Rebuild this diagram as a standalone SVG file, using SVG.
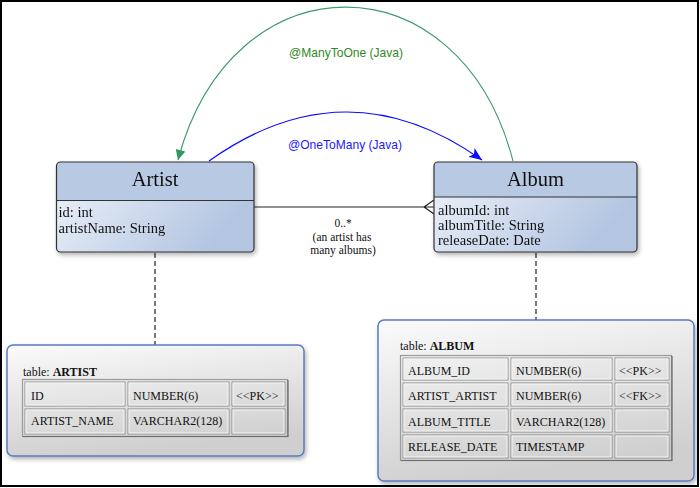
<svg xmlns="http://www.w3.org/2000/svg" width="700" height="488" viewBox="0 0 700 488">
<style>
.serif{font-family:"Liberation Serif","Times New Roman",serif;fill:#111}
.title{font-size:20.5px;text-anchor:middle}
.attr{font-size:14.5px}
.tbl{font-size:12px}
.lbl{font-size:11.5px;text-anchor:middle}
.java{font-family:"Liberation Sans",Arial,sans-serif;font-size:13px;text-anchor:middle}
.nodebox{stroke:#333;stroke-width:1.2;fill:none}
.hdr{fill:#b8c9e3}
.body{fill:url(#bodyGrad)}
.tbox{fill:url(#tblGrad);stroke:#5b7cc0;stroke-width:1.5}
.cell{fill:none;stroke:#8a8a8a;stroke-width:1}
.cellhi{fill:none;stroke:#f6f6f6;stroke-width:1}
.touter{fill:none;stroke:#9a9a9a;stroke-width:1.2}
.tshadow{fill:none;stroke:#6a6a6a;stroke-width:1.2}
.dash{stroke:#222;stroke-width:1.2;stroke-dasharray:5,3;fill:none}
</style>
<defs>
<linearGradient id="bodyGrad" x1="0" y1="0" x2="1" y2="0.4">
<stop offset="0" stop-color="#f0f4fb"/>
<stop offset="1" stop-color="#b3c5e1"/>
</linearGradient>
<linearGradient id="tblGrad" x1="0" y1="0" x2="0.3" y2="1">
<stop offset="0" stop-color="#fbfbfb"/>
<stop offset="1" stop-color="#cfcfcf"/>
</linearGradient>
<filter id="sh" x="-10%" y="-10%" width="125%" height="130%">
<feDropShadow dx="1.5" dy="2.5" stdDeviation="2" flood-color="#000" flood-opacity="0.3"/>
</filter>
<marker id="arrGreen" viewBox="0 0 10 10" refX="10" refY="5" markerWidth="11" markerHeight="10" markerUnits="userSpaceOnUse" orient="auto">
<path d="M0,0 L10,5 L0,10 z" fill="#2e9a62"/>
</marker>
<marker id="arrBlue" viewBox="0 0 12 10" refX="12" refY="5" markerWidth="13" markerHeight="11" markerUnits="userSpaceOnUse" orient="auto">
<path d="M0,0 L12,5 L0,10 L3,5 z" fill="#0a0aff"/>
</marker>
</defs>

<rect x="0" y="0" width="700" height="488" fill="#fff"/>
<rect x="1" y="1" width="697" height="485" fill="none" stroke="#000" stroke-width="2"/>

<g id="connectors">
<path d="M513,161 C460,-44 232,-44 178,160" fill="none" stroke="#3c9a6c" stroke-width="1.1" marker-end="url(#arrGreen)"/>
<path d="M209,161 Q346,63.5 482,160" fill="none" stroke="#0a0aff" stroke-width="1.2" marker-end="url(#arrBlue)"/>
<text class="java" x="346" y="57" fill="#2f8a1f" textLength="114" lengthAdjust="spacingAndGlyphs">@ManyToOne (Java)</text>
<text class="java" x="345" y="149" fill="#1a1aff" textLength="114" lengthAdjust="spacingAndGlyphs">@OneToMany (Java)</text>
<path d="M254,207 H434 M424,207 L434,200 M424,207 L434,214" fill="none" stroke="#222" stroke-width="1.2"/>
<text class="serif lbl" x="343" y="227">0..*</text>
<text class="serif lbl" x="342" y="241">(an artist has</text>
<text class="serif lbl" x="343" y="254">many albums)</text>
<path class="dash" d="M155,253 V345"/>
<path class="dash" d="M536,253 V320"/>
</g>

<g id="artist" filter="url(#sh)">
<rect class="body" x="56.5" y="162" width="197.5" height="90" rx="4"/>
<path class="hdr" d="M56.5,200.5 V166 a4,4 0 0 1 4,-4 H250 a4,4 0 0 1 4,4 V200.5 Z"/>
<line x1="56.5" y1="200.5" x2="254" y2="200.5" stroke="#333" stroke-width="1.2"/>
<rect class="nodebox" x="56.5" y="162" width="197.5" height="90" rx="4"/>
<text class="serif title" x="155" y="186">Artist</text>
<text class="serif attr" x="58.5" y="217">id: int</text>
<text class="serif attr" x="58.5" y="233">artistName: String</text>
</g>

<g id="album" filter="url(#sh)">
<rect class="body" x="434" y="162" width="203" height="90" rx="4"/>
<path class="hdr" d="M434,197 V166 a4,4 0 0 1 4,-4 H633 a4,4 0 0 1 4,4 V197 Z"/>
<line x1="434" y1="197" x2="637" y2="197" stroke="#333" stroke-width="1.2"/>
<rect class="nodebox" x="434" y="162" width="203" height="90" rx="4"/>
<text class="serif title" x="535.5" y="186">Album</text>
<text class="serif attr" x="438" y="215">albumId: int</text>
<text class="serif attr" x="438" y="230">albumTitle: String</text>
<text class="serif attr" x="438" y="245">releaseDate: Date</text>
</g>

<g id="artist-table">
<rect class="tbox" x="7" y="345" width="297" height="111" rx="6" filter="url(#sh)"/>
<text class="serif tbl" x="23" y="376">table: <tspan font-weight="bold">ARTIST</tspan></text>
<rect class="touter" x="22.5" y="379.5" width="265" height="57"/>
<path class="tshadow" d="M23,436.5 H288 V380"/>
<rect class="cell" x="25" y="382" width="100" height="24"/>
<rect class="cellhi" x="26" y="383" width="98" height="22"/>
<rect class="cell" x="128" y="382" width="101" height="24"/>
<rect class="cellhi" x="129" y="383" width="99" height="22"/>
<rect class="cell" x="232" y="382" width="53" height="24"/>
<rect class="cellhi" x="233" y="383" width="51" height="22"/>
<rect class="cell" x="25" y="409" width="100" height="25"/>
<rect class="cellhi" x="26" y="410" width="98" height="23"/>
<rect class="cell" x="128" y="409" width="101" height="25"/>
<rect class="cellhi" x="129" y="410" width="99" height="23"/>
<rect class="cell" x="232" y="409" width="53" height="25"/>
<rect class="cellhi" x="233" y="410" width="51" height="23"/>
<text class="serif tbl" x="31" y="400">ID</text>
<text class="serif tbl" x="133" y="400">NUMBER(6)</text>
<text class="serif tbl" x="236" y="400">&lt;&lt;PK&gt;&gt;</text>
<text class="serif tbl" x="31" y="425">ARTIST_NAME</text>
<text class="serif tbl" x="133" y="425">VARCHAR2(128)</text>
</g>

<g id="album-table">
<rect class="tbox" x="378" y="320" width="316" height="161" rx="6" filter="url(#sh)"/>
<text class="serif tbl" x="400" y="350">table: <tspan font-weight="bold">ALBUM</tspan></text>
<rect class="touter" x="400.5" y="355.5" width="271" height="105"/>
<path class="tshadow" d="M401,460.5 H672 V356"/>
<rect class="cell" x="403" y="358" width="105" height="22"/>
<rect class="cellhi" x="404" y="359" width="103" height="20"/>
<rect class="cell" x="511" y="358" width="101" height="22"/>
<rect class="cellhi" x="512" y="359" width="99" height="20"/>
<rect class="cell" x="615" y="358" width="54" height="22"/>
<rect class="cellhi" x="616" y="359" width="52" height="20"/>
<rect class="cell" x="403" y="383" width="105" height="23"/>
<rect class="cellhi" x="404" y="384" width="103" height="21"/>
<rect class="cell" x="511" y="383" width="101" height="23"/>
<rect class="cellhi" x="512" y="384" width="99" height="21"/>
<rect class="cell" x="615" y="383" width="54" height="23"/>
<rect class="cellhi" x="616" y="384" width="52" height="21"/>
<rect class="cell" x="403" y="409" width="105" height="23"/>
<rect class="cellhi" x="404" y="410" width="103" height="21"/>
<rect class="cell" x="511" y="409" width="101" height="23"/>
<rect class="cellhi" x="512" y="410" width="99" height="21"/>
<rect class="cell" x="615" y="409" width="54" height="23"/>
<rect class="cellhi" x="616" y="410" width="52" height="21"/>
<rect class="cell" x="403" y="435" width="105" height="23"/>
<rect class="cellhi" x="404" y="436" width="103" height="21"/>
<rect class="cell" x="511" y="435" width="101" height="23"/>
<rect class="cellhi" x="512" y="436" width="99" height="21"/>
<rect class="cell" x="615" y="435" width="54" height="23"/>
<rect class="cellhi" x="616" y="436" width="52" height="21"/>
<text class="serif tbl" x="408" y="375">ALBUM_ID</text>
<text class="serif tbl" x="516" y="375">NUMBER(6)</text>
<text class="serif tbl" x="619" y="375">&lt;&lt;PK&gt;&gt;</text>
<text class="serif tbl" x="408" y="400">ARTIST_ARTIST</text>
<text class="serif tbl" x="516" y="400">NUMBER(6)</text>
<text class="serif tbl" x="619" y="400">&lt;&lt;FK&gt;&gt;</text>
<text class="serif tbl" x="408" y="426">ALBUM_TITLE</text>
<text class="serif tbl" x="516" y="426">VARCHAR2(128)</text>
<text class="serif tbl" x="408" y="451">RELEASE_DATE</text>
<text class="serif tbl" x="516" y="451">TIMESTAMP</text>
</g>
</svg>
